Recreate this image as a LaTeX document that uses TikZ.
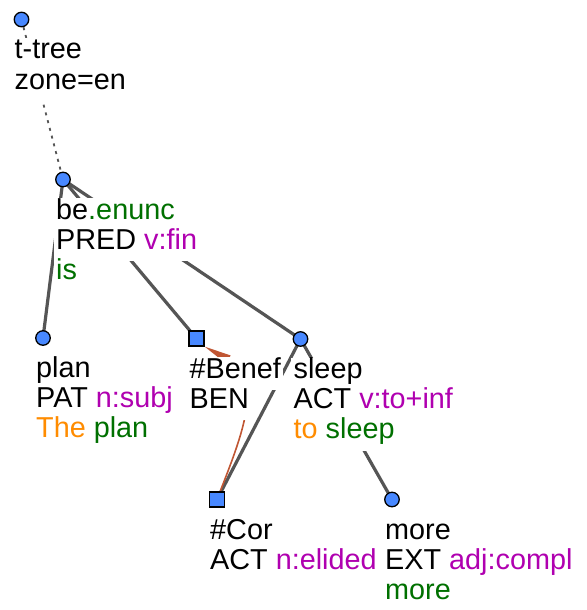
\documentclass[tikz,border=0pt]{standalone}
\usepackage{fontspec}
\setmainfont{Liberation Sans}
\usetikzlibrary{calc,arrows.meta}
\definecolor{tgreen}{RGB}{0,112,0}
\definecolor{tmag}{RGB}{176,0,176}
\definecolor{torange}{RGB}{255,140,0}
\definecolor{tblue}{RGB}{72,136,255}
\definecolor{edgegray}{RGB}{85,85,85}
\definecolor{corefcol}{RGB}{192,86,51}
\pgfdeclarelayer{edges}
\pgfdeclarelayer{labels}
\pgfsetlayers{edges,labels,main}
\tikzset{
 tnode/.style={circle,draw=black,line width=1.3pt,fill=tblue,minimum size=14.5pt,inner sep=0pt},
 snode/.style={rectangle,draw=black,line width=1.3pt,fill=tblue,minimum size=15pt,inner sep=0pt},
 lbl/.style={anchor=base west,fill=white,inner xsep=2.5pt,inner ysep=0pt,text height=21pt,text depth=12pt,font=\fontsize{28.8}{30}\selectfont},
 edge/.style={draw=edgegray,line width=3.2pt},
 rootedge/.style={draw=edgegray,line width=1.8pt,dash pattern=on 3pt off 5pt},
 corefedge/.style={draw=corefcol,line width=1.6pt,-{Triangle[length=27pt,width=9pt]}}
}
\newcommand\tlab[3]{\node[lbl] at ($(#1.center)+(-9.5,{39.5+30*#2})$) {#3};}
\begin{document}
\begin{tikzpicture}[x=1pt,y=-1pt]
\useasboundingbox (0,0) rectangle (586,610);
\node[tnode] (root) at (21.5,19.5) {};
\node[tnode] (be) at (63,179.5) {};
\node[tnode] (plan) at (43,338) {};
\node[snode] (ben) at (196.5,338.5) {};
\node[tnode] (sleep) at (300.5,339) {};
\node[snode] (cor) at (217,499.5) {};
\node[tnode] (more) at (392,499.5) {};
\begin{pgfonlayer}{edges}
\draw[rootedge] (root.center) -- (be.center);
\draw[edge] (be.center) -- (plan.center);
\draw[edge] (be.center) -- (ben.center);
\draw[edge] (be.center) -- (sleep.center);
\draw[edge] (sleep.center) -- (cor.center);
\draw[edge] (sleep.center) -- (more.center);
\draw[corefedge] (cor.center) .. controls (240,440) and (266,380) .. (ben.south east);
\end{pgfonlayer}
\begin{pgfonlayer}{labels}
\tlab{root}{0}{t-tree}
\tlab{root}{1}{zone=en}
\tlab{be}{0}{be\textcolor{tgreen}{.enunc}}
\tlab{be}{1}{PRED \textcolor{tmag}{v:fin}}
\tlab{be}{2}{\textcolor{tgreen}{is}}
\tlab{plan}{0}{plan}
\tlab{plan}{1}{PAT \textcolor{tmag}{n:subj}}
\tlab{plan}{2}{\textcolor{torange}{The} \textcolor{tgreen}{plan}}
\tlab{ben}{0}{\#Benef}
\tlab{ben}{1}{BEN}
\tlab{sleep}{0}{sleep}
\tlab{sleep}{1}{ACT \textcolor{tmag}{v:to+inf}}
\tlab{sleep}{2}{\textcolor{torange}{to} \textcolor{tgreen}{sleep}}
\tlab{cor}{0}{\#Cor}
\tlab{cor}{1}{ACT \textcolor{tmag}{n:elided}}
\tlab{more}{0}{more}
\tlab{more}{1}{EXT \textcolor{tmag}{adj:compl}}
\tlab{more}{2}{\textcolor{tgreen}{more}}
\end{pgfonlayer}
\end{tikzpicture}
\end{document}
